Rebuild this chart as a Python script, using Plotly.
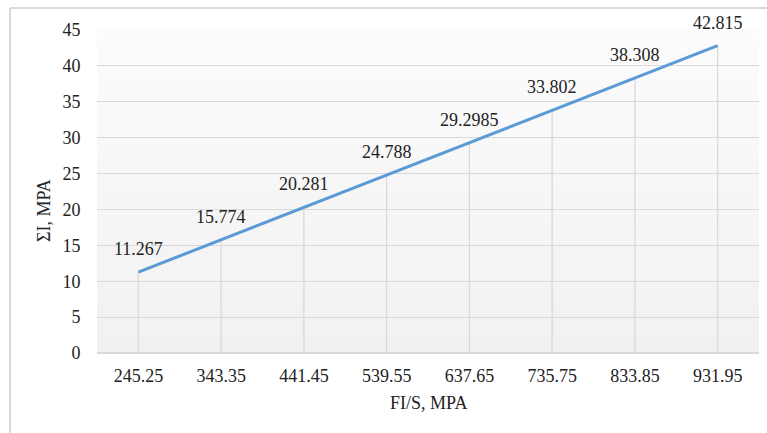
import plotly.graph_objects as go

# Stress data: load ratio F/S (categories) vs. stress ΣI
categories = ["245.25", "343.35", "441.45", "539.55", "637.65", "735.75", "833.85", "931.95"]
values = [11.267, 15.774, 20.281, 24.788, 29.2985, 33.802, 38.308, 42.815]
value_labels = ["11.267", "15.774", "20.281", "24.788", "29.2985", "33.802", "38.308", "42.815"]
y_ticks = [0, 5, 10, 15, 20, 25, 30, 35, 40, 45]

W, H = 767, 433
ML, MR, MT, MB = 97, 8, 30, 80
PW, PH = W - ML - MR, H - MT - MB

FONT = "Liberation Serif, Times New Roman, serif"
GRID = "#d9d9d9"
TEXT = "#222222"

# categories are placed at integer slots on a linear axis
pos = list(range(len(categories)))

fig = go.Figure()

# vertical drop lines from each point down to zero
drop_x, drop_y = [], []
for p, v in zip(pos, values):
    drop_x += [p, p, None]
    drop_y += [0, v, None]
fig.add_trace(go.Scatter(x=drop_x, y=drop_y, mode="lines",
                         line=dict(color=GRID, width=1.3),
                         hoverinfo="skip", showlegend=False))

fig.add_trace(go.Scatter(x=pos, y=values, mode="lines",
                         line=dict(color="#5b9bd5", width=3),
                         showlegend=False))

# value labels above each point
annotations = [
    dict(x=p, y=v, text=t, showarrow=False, yshift=23,
         xanchor="center", yanchor="middle",
         font=dict(family=FONT, size=18, color=TEXT))
    for p, v, t in zip(pos, values, value_labels)
]

def px_to_paper_x(px):
    return (px - ML) / PW

def px_to_paper_y(py):
    return 1 - (py - MT) / PH

annotations.append(dict(x=px_to_paper_x(44), y=px_to_paper_y(211), xref="paper", yref="paper",
                        text="ΣI, MPA", textangle=-90, showarrow=False,
                        xanchor="center", yanchor="middle",
                        font=dict(family=FONT, size=18, color=TEXT)))
annotations.append(dict(x=0.5, y=px_to_paper_y(403), xref="paper", yref="paper",
                        text="FI/S, MPA", showarrow=False,
                        xanchor="center", yanchor="middle",
                        font=dict(family=FONT, size=18, color=TEXT)))

# soft vertical gradient in the plot area
shapes = []
n = 40
top = (252, 252, 252)
bot = (241, 241, 241)
for i in range(n):
    f = i / (n - 1)
    col = tuple(round(top[k] + (bot[k] - top[k]) * f) for k in range(3))
    shapes.append(dict(type="rect", xref="paper", yref="paper",
                       x0=0, x1=1, y0=1 - (i + 1) / n, y1=1 - i / n,
                       fillcolor="rgb(%d,%d,%d)" % col, line=dict(width=0), layer="below"))

# outer chart frame (left and top edges)
shapes.append(dict(type="line", xref="paper", yref="paper",
                   x0=px_to_paper_x(10), x1=px_to_paper_x(10),
                   y0=px_to_paper_y(8), y1=px_to_paper_y(440),
                   line=dict(color=GRID, width=2)))
shapes.append(dict(type="line", xref="paper", yref="paper",
                   x0=px_to_paper_x(10), x1=px_to_paper_x(780),
                   y0=px_to_paper_y(8), y1=px_to_paper_y(8),
                   line=dict(color=GRID, width=2)))

fig.update_layout(
    width=W, height=H,
    margin=dict(l=ML, r=MR, t=MT, b=MB),
    paper_bgcolor="white",
    plot_bgcolor="#f2f2f2",
    font=dict(family=FONT, size=18, color=TEXT),
    shapes=shapes,
    annotations=annotations,
    xaxis=dict(range=[-0.5, len(categories) - 0.5], tickvals=pos, ticktext=categories,
               showgrid=False, showline=False, zeroline=False,
               ticks="outside", ticklen=6, tickcolor="rgba(0,0,0,0)",
               tickfont=dict(family=FONT, size=18, color=TEXT)),
    yaxis=dict(range=[0, 45], tickvals=y_ticks, showgrid=True, gridcolor=GRID, gridwidth=1.3,
               zeroline=True, zerolinecolor=GRID, zerolinewidth=2, showline=False,
               ticks="outside", ticklen=12, tickcolor="rgba(0,0,0,0)",
               tickfont=dict(family=FONT, size=18, color=TEXT)),
)

fig.write_html("out.html")
